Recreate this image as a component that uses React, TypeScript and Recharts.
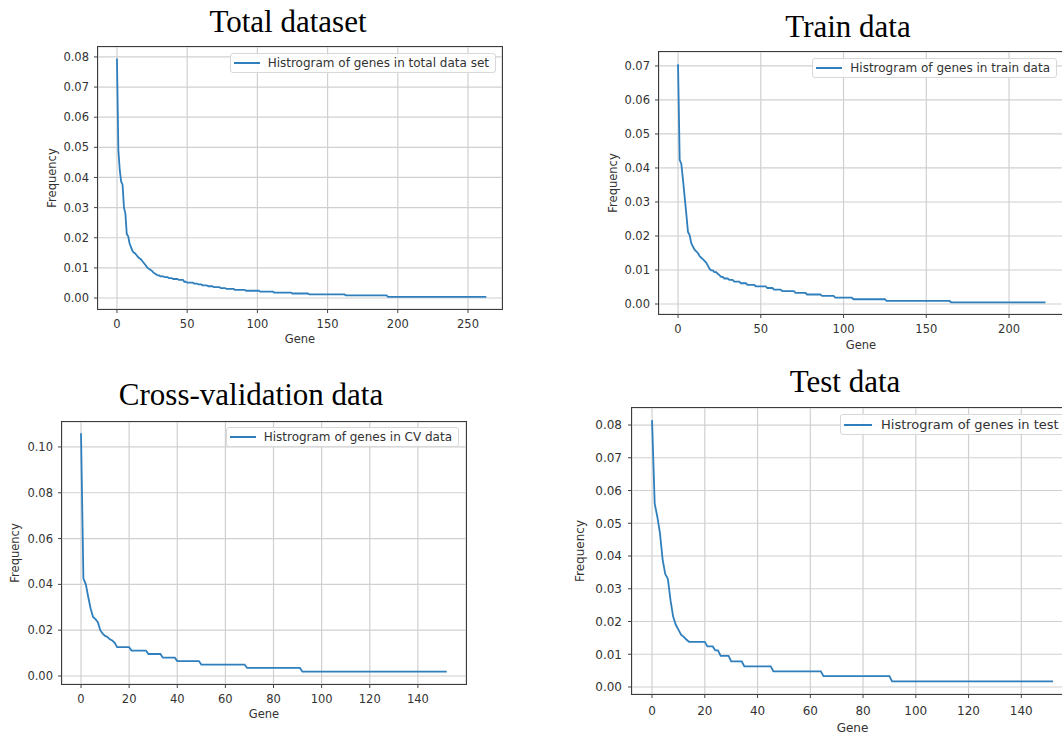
import { LineChart, Line, XAxis, YAxis, CartesianGrid, Legend } from 'recharts'

// relative frequency of each gene, sorted high to low.
// head = the steep start, one value per gene
// tail = the flat part as [frequency, number of genes at that frequency]
const TOTAL_HEAD = [
  0.0795, 0.0491, 0.0425, 0.0386, 0.0376, 0.03, 0.028, 0.0212, 0.0205, 0.0181,
  0.0169, 0.0157, 0.0151, 0.0148, 0.0142, 0.0136, 0.0132, 0.0129, 0.0123, 0.0117,
  0.0111, 0.0105, 0.0099, 0.0096, 0.0093, 0.009, 0.0084, 0.0081, 0.0078,
]
const TOTAL_TAIL: [number, number][] = [
  [0.0075, 2], [0.0072, 3], [0.0069, 3], [0.0066, 3], [0.0063, 4], [0.006, 4],
  [0.0054, 2], [0.0051, 5], [0.0048, 3], [0.0045, 3], [0.0042, 4], [0.0039, 4],
  [0.0036, 5], [0.0033, 4], [0.003, 6], [0.0027, 8], [0.0024, 10], [0.0021, 10],
  [0.0018, 13], [0.0015, 12], [0.0012, 26], [0.0009, 30], [0.0004, 71],
]

const TRAIN_HEAD = [
  0.0705, 0.0424, 0.0412, 0.0365, 0.0315, 0.0265, 0.0212, 0.0203, 0.0179, 0.0169,
  0.016, 0.0155, 0.015, 0.0141, 0.0136, 0.0132, 0.0127, 0.0122, 0.0113, 0.0104,
  0.0099, 0.0099, 0.0094, 0.0094, 0.0089, 0.0085, 0.008, 0.008,
]
const TRAIN_TAIL: [number, number][] = [
  [0.0075, 3], [0.0071, 3], [0.0066, 4], [0.0061, 4], [0.0056, 5], [0.0052, 7],
  [0.0047, 4], [0.0042, 5], [0.0038, 8], [0.0033, 7], [0.0028, 9], [0.0024, 8],
  [0.0019, 11], [0.0014, 20], [0.0009, 39], [0.0005, 58],
]

const CV_HEAD = [
  0.106, 0.0425, 0.04, 0.0345, 0.0295, 0.0258, 0.0248, 0.0235, 0.02, 0.0185,
  0.0175, 0.017, 0.016, 0.0155, 0.0145,
]
const CV_TAIL: [number, number][] = [
  [0.0126, 6], [0.0111, 7], [0.0096, 6], [0.008, 6], [0.0065, 10], [0.005, 19],
  [0.0035, 23], [0.0019, 61],
]

const TEST_HEAD = [
  0.0815, 0.056, 0.052, 0.047, 0.039, 0.0345, 0.033, 0.0265, 0.0215, 0.019,
  0.0175, 0.016, 0.0153, 0.0145,
]
const TEST_TAIL: [number, number][] = [
  [0.0138, 7], [0.0124, 3], [0.0112, 2], [0.0095, 4], [0.0078, 5], [0.0063, 11],
  [0.0048, 19], [0.0033, 26], [0.0017, 62],
]

const TOTAL_X_TICKS = [0, 50, 100, 150, 200, 250]
const TOTAL_Y_TICKS = [0, 0.01, 0.02, 0.03, 0.04, 0.05, 0.06, 0.07, 0.08]
const TRAIN_X_TICKS = [0, 50, 100, 150, 200]
const TRAIN_Y_TICKS = [0, 0.01, 0.02, 0.03, 0.04, 0.05, 0.06, 0.07]
const CV_X_TICKS = [0, 20, 40, 60, 80, 100, 120, 140]
const CV_Y_TICKS = [0, 0.02, 0.04, 0.06, 0.08, 0.1]
const TEST_X_TICKS = [0, 20, 40, 60, 80, 100, 120, 140]
const TEST_Y_TICKS = [0, 0.01, 0.02, 0.03, 0.04, 0.05, 0.06, 0.07, 0.08]

const LINE_COLOR = '#2f7fbd'
const TEXT_COLOR = '#333'
const SANS = 'DejaVu Sans'

function toRows(head: number[], tail: [number, number][]) {
  const values = [...head]
  tail.forEach(([freq, genes]) => {
    for (let i = 0; i < genes; i++) values.push(freq)
  })
  return values.map((freq, gene) => ({ gene, freq }))
}

const Y_AXIS_W = 60
const X_AXIS_H = 40

interface PanelProps {
  title: string
  titleX: number
  titleTop: number
  left: number
  top: number
  width: number
  height: number
  data: { gene: number; freq: number }[]
  xDomain: [number, number]
  yDomain: [number, number]
  xTicks: number[]
  yTicks: number[]
  legendText: string
  legendPos: React.CSSProperties
  font: number
  legendFont: number
  scale: number
  yLabelOffset: number
  xLabelOffset: number
  xTickMargin: number
  yTickMargin: number
}

function LegendBox({ text, fontSize, scale }: { text: string; fontSize: number; scale: number }) {
  const swatch = Math.round(26 * scale)
  return (
    <div
      style={{
        display: 'flex',
        alignItems: 'center',
        background: 'rgba(255,255,255,0.85)',
        border: '1px solid #d8d8d8',
        borderRadius: 3,
        padding: `${2 * scale}px 6px ${2 * scale}px 3px`,
        fontFamily: SANS,
        fontSize,
        lineHeight: `${Math.round(14 * scale)}px`,
        color: TEXT_COLOR,
        whiteSpace: 'nowrap',
      }}
    >
      <svg width={swatch} height={4} style={{ marginRight: Math.round(8 * scale) }}>
        <line x1={0} y1={2} x2={swatch} y2={2} stroke={LINE_COLOR} strokeWidth={2} />
      </svg>
      <span>{text}</span>
    </div>
  )
}

function Panel(p: PanelProps) {
  return (
    <>
      <div
        style={{
          position: 'absolute',
          left: p.titleX - 200,
          top: p.titleTop,
          width: 400,
          textAlign: 'center',
          fontFamily: 'Liberation Serif',
          fontSize: 31,
          lineHeight: '31px',
          color: '#000',
        }}
      >
        {p.title}
      </div>
      <div style={{ position: 'absolute', left: p.left - Y_AXIS_W, top: p.top }}>
        <LineChart
          width={p.width + Y_AXIS_W}
          height={p.height + X_AXIS_H}
          data={p.data}
          margin={{ top: 0, right: 0, bottom: 0, left: 0 }}
        >
          <CartesianGrid stroke="#d0d0d0" strokeWidth={1.2} />
          <XAxis
            dataKey="gene"
            type="number"
            domain={p.xDomain}
            ticks={p.xTicks}
            allowDataOverflow
            height={X_AXIS_H}
            axisLine={false}
            tickLine={{ stroke: '#444' }}
            tickSize={4}
            tickMargin={p.xTickMargin}
            tick={{ fontSize: p.font, fill: TEXT_COLOR, fontFamily: SANS }}
            label={{
              value: 'Gene',
              position: 'insideBottom',
              offset: p.xLabelOffset,
              fontSize: p.font,
              fill: TEXT_COLOR,
              fontFamily: SANS,
            }}
          />
          <YAxis
            type="number"
            domain={p.yDomain}
            ticks={p.yTicks}
            allowDataOverflow
            width={Y_AXIS_W}
            axisLine={false}
            tickLine={{ stroke: '#444' }}
            tickSize={4}
            tickMargin={p.yTickMargin}
            tick={{ fontSize: p.font, fill: TEXT_COLOR, fontFamily: SANS }}
            tickFormatter={(v: number) => v.toFixed(2)}
            label={{
              value: 'Frequency',
              angle: -90,
              position: 'insideLeft',
              offset: p.yLabelOffset,
              fontSize: p.font,
              fill: TEXT_COLOR,
              fontFamily: SANS,
              style: { textAnchor: 'middle' },
            }}
          />
          {/* middle + center keeps the legend from taking space off the plot */}
          <Legend
            layout="horizontal"
            verticalAlign="middle"
            align="center"
            wrapperStyle={{ width: 'auto', height: 'auto', ...p.legendPos }}
            content={() => <LegendBox text={p.legendText} fontSize={p.legendFont} scale={p.scale} />}
          />
          <Line
            type="linear"
            dataKey="freq"
            stroke={LINE_COLOR}
            strokeWidth={1.8}
            dot={false}
            isAnimationActive={false}
          />
        </LineChart>
        <div
          style={{
            position: 'absolute',
            left: Y_AXIS_W - 0.7,
            top: -0.7,
            width: p.width + 1.4,
            height: p.height + 1.4,
            border: '1.4px solid #3c3c3c',
            boxSizing: 'border-box',
            pointerEvents: 'none',
          }}
        />
      </div>
    </>
  )
}

export default function App() {
  return (
    <div
      style={{
        position: 'absolute',
        left: 0,
        top: 0,
        width: 1062,
        height: 736,
        overflow: 'hidden',
        background: '#fff',
        fontFamily: SANS,
      }}
    >
      <Panel
        title="Total dataset"
        titleX={288}
        titleTop={6}
        left={98}
        top={47}
        width={404}
        height={262}
        data={toRows(TOTAL_HEAD, TOTAL_TAIL)}
        xDomain={[-13.5, 274.2]}
        yDomain={[-0.00365, 0.0833]}
        xTicks={TOTAL_X_TICKS}
        yTicks={TOTAL_Y_TICKS}
        legendText="Histrogram of genes in total data set"
        legendPos={{ top: 6, right: 6, left: 'auto' }}
        font={11.5}
        legendFont={12}
        scale={1}
        yLabelOffset={14}
        xLabelOffset={6}
        xTickMargin={7}
        yTickMargin={5}
      />
      <Panel
        title="Train data"
        titleX={848}
        titleTop={11}
        left={659}
        top={52}
        width={404}
        height={262}
        data={toRows(TRAIN_HEAD, TRAIN_TAIL)}
        xDomain={[-11.5, 232.6]}
        yDomain={[-0.00294, 0.0741]}
        xTicks={TRAIN_X_TICKS}
        yTicks={TRAIN_Y_TICKS}
        legendText="Histrogram of genes in train data"
        legendPos={{ top: 6, right: 6, left: 'auto' }}
        font={11.5}
        legendFont={12}
        scale={1}
        yLabelOffset={14}
        xLabelOffset={5}
        xTickMargin={7}
        yTickMargin={5}
      />
      <Panel
        title="Cross-validation data"
        titleX={251}
        titleTop={379}
        left={62}
        top={422}
        width={404}
        height={262}
        data={toRows(CV_HEAD, CV_TAIL)}
        xDomain={[-7.9, 160]}
        yDomain={[-0.0035, 0.1109]}
        xTicks={CV_X_TICKS}
        yTicks={CV_Y_TICKS}
        legendText="Histrogram of genes in CV data"
        legendPos={{ top: 5, right: 7, left: 'auto' }}
        font={11.5}
        legendFont={12}
        scale={1}
        yLabelOffset={13}
        xLabelOffset={6}
        xTickMargin={7}
        yTickMargin={5}
      />
      <Panel
        title="Test data"
        titleX={845}
        titleTop={366}
        left={632}
        top={408}
        width={441}
        height={286}
        data={toRows(TEST_HEAD, TEST_TAIL)}
        xDomain={[-7.6, 159.6]}
        yDomain={[-0.00214, 0.0852]}
        xTicks={TEST_X_TICKS}
        yTicks={TEST_Y_TICKS}
        legendText="Histrogram of genes in test data"
        legendPos={{ top: 6, left: 268, right: 'auto' }}
        font={12}
        legendFont={13}
        scale={1.09}
        yLabelOffset={8}
        xLabelOffset={2}
        xTickMargin={8}
        yTickMargin={6}
      />
    </div>
  )
}
